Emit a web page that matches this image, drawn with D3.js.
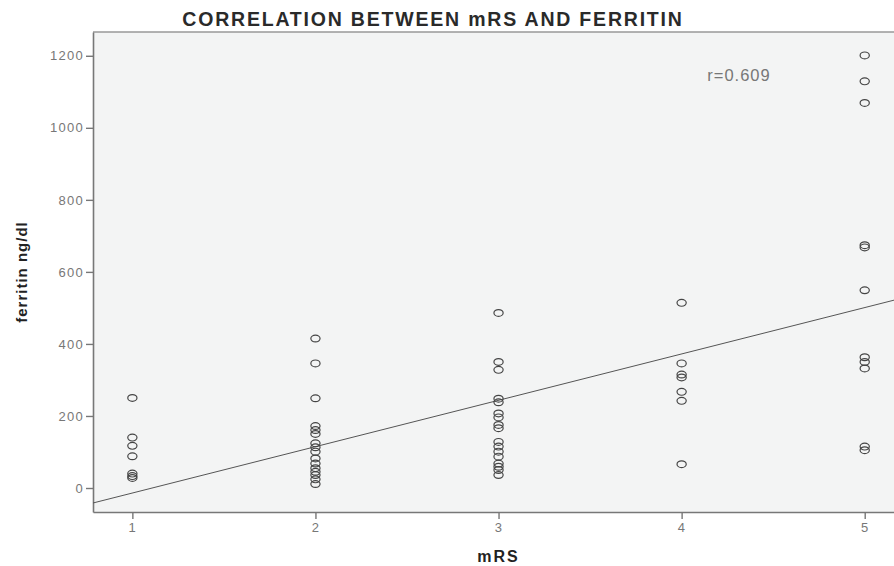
<!DOCTYPE html>
<html>
<head>
<meta charset="utf-8">
<script src="https://cdn.jsdelivr.net/npm/d3@7"></script>
<style>
  body { margin: 0; background: #fff; }
  svg { display: block; font-family: "Liberation Sans", Arial, sans-serif; }
</style>
</head>
<body>
<svg id="scatter" width="894" height="566"></svg>
<script>
// mRS groups and ferritin values
var mrsGroups = [1, 2, 3, 4, 5];
var ferritinMrs1 = [250, 140, 117, 88, 40, 33, 28];
var ferritinMrs2 = [415, 346, 249, 172, 161, 150, 124, 113, 101, 82, 68, 55, 45, 36, 24, 11];
var ferritinMrs3 = [486, 350, 328, 248, 238, 207, 196, 175, 166, 128, 115, 101, 87, 68, 59, 50, 36];
var ferritinMrs4 = [514, 346, 315, 307, 267, 242, 66];
var ferritinMrs5 = [1201, 1129, 1069, 674, 668, 549, 363, 350, 332, 115, 105];
var yTicks = [0, 200, 400, 600, 800, 1000, 1200];
// fitted line: ferritin = intercept + slope * mRS
var fitLine = {intercept: -142.6, slope: 128.7};
var rLabel = "r=0.609";

var ferritinByGroup = [ferritinMrs1, ferritinMrs2, ferritinMrs3, ferritinMrs4, ferritinMrs5];
var points = [];
mrsGroups.forEach(function(m, i) {
  ferritinByGroup[i].forEach(function(v) { points.push({mrs: m, ferritin: v}); });
});

var svg = d3.select("#scatter");
var margin = {top: 32, right: 0, bottom: 54, left: 93};
var width = +svg.attr("width") - margin.left - margin.right;
var height = +svg.attr("height") - margin.top - margin.bottom;

var g = svg.append("g")
  .attr("transform", "translate(" + margin.left + "," + margin.top + ")");

// scales
var x = d3.scaleLinear().domain([0.785, 5.16]).range([0, width]);
var y = d3.scaleLinear().domain([-66.6, 1266]).range([height, 0]);

// plot background
g.append("rect")
  .attr("width", width)
  .attr("height", height)
  .attr("fill", "#f3f4f4");

g.append("line")
  .attr("x1", 0).attr("x2", width)
  .attr("y1", 0).attr("y2", 0)
  .attr("stroke", "#999")
  .attr("stroke-width", 1.5);

// axes
var xAxis = d3.axisBottom(x).tickValues(mrsGroups).tickSizeInner(7).tickSizeOuter(0)
  .tickPadding(4).tickFormat(d3.format("d"));
var yAxis = d3.axisLeft(y).tickValues(yTicks).tickSizeInner(7).tickSizeOuter(0)
  .tickPadding(2).tickFormat(d3.format("d"));

var gx = g.append("g")
  .attr("transform", "translate(0," + height + ")")
  .call(xAxis);
var gy = g.append("g").call(yAxis);

[gx, gy].forEach(function(ax) {
  ax.select(".domain").attr("stroke", "#777").attr("stroke-width", 1.6);
  ax.selectAll(".tick line").attr("stroke", "#777").attr("stroke-width", 1.4);
  ax.selectAll(".tick text")
    .attr("fill", "#777")
    .style("font-size", "13px")
    .style("letter-spacing", "1.3px")
    .style("font-family", "'Liberation Sans', Arial, sans-serif");
});

// fitted line
var xs = x.domain();
g.append("line")
  .attr("x1", x(xs[0]))
  .attr("y1", y(fitLine.intercept + fitLine.slope * xs[0]))
  .attr("x2", x(xs[1]))
  .attr("y2", y(fitLine.intercept + fitLine.slope * xs[1]))
  .attr("stroke", "#555")
  .attr("stroke-width", 1);

// points
g.selectAll(".dot")
  .data(points)
  .enter().append("ellipse")
  .attr("class", "dot")
  .attr("cx", function(d) { return x(d.mrs); })
  .attr("cy", function(d) { return y(d.ferritin); })
  .attr("rx", 4.6)
  .attr("ry", 3.4)
  .attr("fill", "none")
  .attr("stroke", "#444")
  .attr("stroke-width", 1.2);

// r label
g.append("text")
  .attr("x", x(4.14))
  .attr("y", y(1130))
  .attr("fill", "#777")
  .style("font-size", "16.5px")
  .style("letter-spacing", "1px")
  .text(rLabel);

// title
svg.append("text")
  .attr("x", 433)
  .attr("y", 26)
  .attr("text-anchor", "middle")
  .attr("fill", "#2a2a2a")
  .style("font-size", "19.5px")
  .style("font-weight", "bold")
  .style("letter-spacing", "1.8px")
  .text("CORRELATION BETWEEN mRS AND FERRITIN");

// axis labels
svg.append("text")
  .attr("x", margin.left + x(3))
  .attr("y", 562)
  .attr("text-anchor", "middle")
  .attr("fill", "#222")
  .style("font-size", "16px")
  .style("font-weight", "bold")
  .style("letter-spacing", "2px")
  .text("mRS");

svg.append("text")
  .attr("transform", "rotate(-90)")
  .attr("x", -272)
  .attr("y", 27)
  .attr("text-anchor", "middle")
  .attr("fill", "#222")
  .style("font-size", "15px")
  .style("font-weight", "bold")
  .style("letter-spacing", "1px")
  .text("ferritin ng/dl");
</script>
</body>
</html>
